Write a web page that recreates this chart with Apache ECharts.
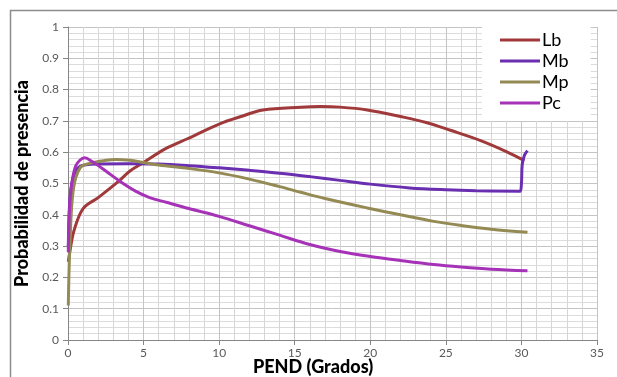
<!DOCTYPE html>
<html>
<head>
<meta charset="utf-8">
<script src="https://cdn.jsdelivr.net/npm/echarts@6/dist/echarts.min.js"></script>
<style>html,body{margin:0;padding:0;background:#fff}#c{width:617px;height:377px}</style>
</head>
<body>
<div id="c"></div>
<script>
const seriesNames = ['Lb', 'Mb', 'Mp', 'Pc'];
const xTicks = [0, 5, 10, 15, 20, 25, 30, 35];
const yTicks = [0, 0.1, 0.2, 0.3, 0.4, 0.5, 0.6, 0.7, 0.8, 0.9, 1];

const lbData = [[0.02,0.25],[0.15,0.29],[0.4,0.35],[1,0.42],[2,0.455],[3.3,0.505],[4.1,0.54],[5,0.567],[6.4,0.61],[7.9,0.643],[10,0.69],[11.5,0.715],[12.9,0.735],[15.4,0.744],[16.7,0.746],[18,0.744],[19.8,0.735],[22,0.714],[23.7,0.695],[25.3,0.67],[27.3,0.637],[29,0.602],[30.2,0.573]];
const mbData = [[0.02,0.3],[0.1,0.43],[0.25,0.5],[0.5,0.54],[0.8,0.555],[1.2,0.56],[2,0.562],[4,0.563],[6,0.562],[8,0.557],[10,0.55],[12,0.542],[14,0.533],[16,0.522],[18,0.51],[20,0.498],[22.6,0.486],[25,0.48],[27,0.477],[29.9,0.475],[30.0,0.5],[30.05,0.56],[30.2,0.59],[30.4,0.605]];
const mpData = [[0.02,0.11],[0.13,0.31],[0.35,0.48],[0.8,0.55],[1.5,0.565],[2.5,0.574],[3.2,0.577],[4.1,0.574],[5,0.567],[6,0.559],[8,0.548],[10,0.534],[12,0.514],[14,0.49],[15.4,0.472],[17,0.452],[19.8,0.422],[22,0.4],[24.2,0.379],[26,0.366],[28,0.354],[30.4,0.344]];
const pcData = [[0.02,0.28],[0.1,0.42],[0.25,0.5],[0.5,0.555],[0.8,0.575],[1.1,0.582],[1.6,0.57],[2.5,0.54],[3.5,0.505],[4.5,0.475],[5.4,0.455],[6.5,0.44],[8,0.42],[10,0.395],[12,0.365],[14,0.335],[16,0.305],[18,0.283],[20,0.267],[22,0.254],[24.2,0.241],[26,0.233],[28,0.226],[30.4,0.221]];

const colors = ['#A0393A', '#6A2FB0', '#948A54', '#A632B8'];
const allData = [lbData, mbData, mpData, pcData];

const chart = echarts.init(document.getElementById('c'), null, {renderer: 'canvas'});
const font = 'Lato, "Liberation Sans", sans-serif';
chart.setOption({
  animation: false,
  backgroundColor: '#fff',
  color: colors,
  textStyle: {fontFamily: font},
  grid: {left: 68, right: 20, top: 27, bottom: 37, containLabel: false},
  graphic: [
    {type: 'rect', left: 8, top: 8, shape: {width: 640, height: 400}, style: {fill: 'none', stroke: '#8c8c8c', lineWidth: 1.5}, silent: true, z: -10},
    {type: 'text', left: 253, top: 358, style: {text: 'PEND (Grados)', font: '900 18px ' + font, fill: '#000'}}
  ],
  legend: {
    orient: 'vertical', left: 482, top: 27,
    padding: [4, 22, 9, 18],
    backgroundColor: '#fff',
    itemWidth: 40, itemHeight: 3, itemGap: 3,
    icon: 'rect',
    textStyle: {fontSize: 18, color: '#000', fontFamily: font, padding: [0, 0, 0, -3], lineHeight: 18},
    data: seriesNames
  },
  xAxis: {
    type: 'value', min: 0, max: 35, interval: 5,
    axisLine: {show: true, onZero: false, lineStyle: {color: '#868686', width: 1}},
    axisTick: {show: true, length: 5, lineStyle: {color: '#868686'}},
    axisLabel: {color: '#595959', fontSize: 12, margin: 7, formatter: v => xTicks.includes(v) ? String(v) : ''},
    splitLine: {show: true, lineStyle: {color: '#c4c4c4', width: 1}},
    minorTick: {show: false, splitNumber: 5},
    minorSplitLine: {show: true, lineStyle: {color: '#d6d6d6', width: 1}}
  },
  yAxis: {
    type: 'value', min: 0, max: 1, interval: 0.1,
    name: 'Probabilidad de presencia', nameLocation: 'middle', nameGap: 28,
    nameTextStyle: {fontSize: 18, fontWeight: 900, color: '#000', fontFamily: font},
    axisLine: {show: true, lineStyle: {color: '#868686', width: 1}},
    axisTick: {show: true, length: 5, lineStyle: {color: '#868686'}},
    axisLabel: {color: '#595959', fontSize: 12, margin: 9, formatter: v => { const t = yTicks.find(k => Math.abs(k - v) < 1e-9); return t === undefined ? '' : String(t); }},
    splitLine: {show: true, lineStyle: {color: '#c4c4c4', width: 1}},
    minorTick: {show: false, splitNumber: 5},
    minorSplitLine: {show: true, lineStyle: {color: '#dcdcdc', width: 1}}
  },
  series: seriesNames.map((n, i) => ({
    name: n, type: 'line', data: allData[i], smooth: 0.35,
    showSymbol: false, symbol: 'none',
    lineStyle: {width: 3, color: colors[i]}, itemStyle: {color: colors[i]}
  }))
});
</script>
</body>
</html>
